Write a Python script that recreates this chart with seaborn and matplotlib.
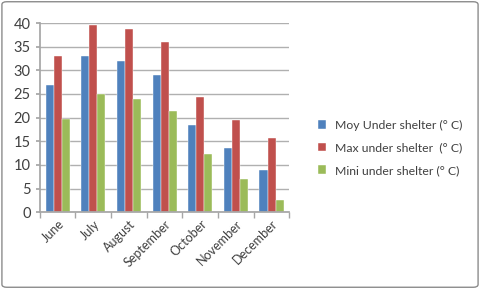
import matplotlib
matplotlib.use("Agg")
import matplotlib.pyplot as plt
import seaborn as sns
import pandas as pd
from matplotlib.patches import FancyBboxPatch

months = ["June", "July", "August", "September", "October", "November", "December"]
series = ["Moy Under shelter (° C)", "Max under shelter  (° C)", "Mini under shelter (° C)"]
moy = [27, 33, 32, 29, 18.5, 13.5, 9]
maxv = [33, 39.5, 38.8, 36, 24.3, 19.5, 15.7]
mini = [19.8, 25, 24, 21.5, 12.4, 7, 2.5]
colors = ["#4F81BD", "#C0504D", "#9BBB59"]

rows = []
for s, vals in zip(series, [moy, maxv, mini]):
    for m, v in zip(months, vals):
        rows.append({"Month": m, "Series": s, "Value": v})
df = pd.DataFrame(rows)

sns.set_theme(style="white")
plt.rcParams['font.family'] = ['Lato', 'DejaVu Sans']

fig = plt.figure(figsize=(4.8, 2.89), dpi=100)
ax = fig.add_axes([0.083, 0.266, 0.52, 0.654])
sns.barplot(data=df, x="Month", y="Value", hue="Series", palette=colors,
            width=0.68, ax=ax, edgecolor="white", linewidth=0.3, saturation=1)

ax.set_ylim(0, 40)
ax.set_xlim(-0.5, 6.5)
ax.set_yticks(range(0, 41, 5))
ax.set_xticks([i - 0.5 for i in range(8)], minor=True)
ax.yaxis.grid(True, color="#B0B0B0", linewidth=1)
ax.set_axisbelow(True)
ax.set_xlabel("")
ax.set_ylabel("")
for sp in ["top", "right"]:
    ax.spines[sp].set_visible(False)
ax.spines["left"].set_color("#A6A6A6")
ax.spines["bottom"].set_color("#A6A6A6")
ax.tick_params(axis="y", labelsize=10.5, colors="#404040", length=3, color="#A6A6A6", left=True)
ax.tick_params(axis="x", which="major", labelsize=9, colors="#404040", length=0, pad=4)
ax.tick_params(axis="x", which="minor", length=4, color="#A6A6A6", bottom=True)
plt.setp(ax.get_xticklabels(), rotation=45, ha="right", rotation_mode="anchor")

handles, labels = ax.get_legend_handles_labels()
ax.legend(handles, labels, loc="center left", bbox_to_anchor=(1.07, 0.34),
          frameon=False, fontsize=8.8, handlelength=0.7, handleheight=0.7,
          labelspacing=0.95, handletextpad=0.7, labelcolor="#404040")

border = FancyBboxPatch((0.004, 0.006), 0.992, 0.988, boxstyle="round,pad=0,rounding_size=0.01",
                        transform=fig.transFigure, fill=False, edgecolor="#8C8C8C", linewidth=1)
fig.patches.append(border)

fig.savefig("out.png", dpi=100)
